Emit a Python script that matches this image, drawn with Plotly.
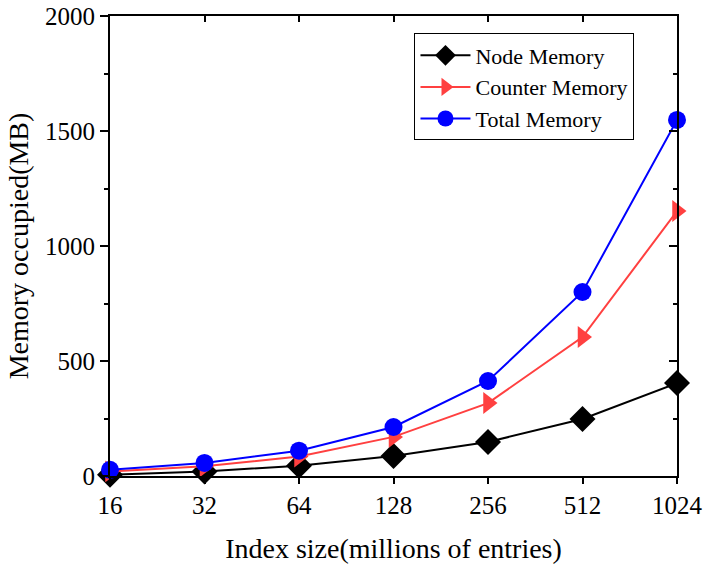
import plotly.graph_objects as go

categories = ["16", "32", "64", "128", "256", "512", "1024"]
node_memory = [5, 20, 45, 87, 148, 248, 404]
counter_memory = [20, 42, 85, 170, 317, 604, 1152]
total_memory = [27, 57, 110, 213, 413, 800, 1548]

FONT = "Liberation Serif"

fig = go.Figure()
fig.add_trace(go.Scatter(x=categories, y=node_memory, name="Node Memory", mode="lines+markers",
                         line=dict(color="black", width=2),
                         marker=dict(symbol="diamond", size=20, color="black"), cliponaxis=False))
fig.add_trace(go.Scatter(x=categories, y=counter_memory, name="Counter Memory", mode="lines+markers",
                         line=dict(color="#ff4040", width=2),
                         marker=dict(symbol="triangle-right", size=19, color="#ff4040"), cliponaxis=False))
fig.add_trace(go.Scatter(x=categories, y=total_memory, name="Total Memory", mode="lines+markers",
                         line=dict(color="#0000ff", width=2),
                         marker=dict(symbol="circle", size=18, color="#0000ff"), cliponaxis=False))
# invisible trace to activate mirrored axes with inside ticks
fig.add_trace(go.Scatter(x=categories, y=total_memory, xaxis="x2", yaxis="y2", mode="markers",
                         marker=dict(opacity=0), showlegend=False, hoverinfo="skip"))

fig.update_layout(
    width=705, height=564,
    margin=dict(l=110, r=28, t=16, b=88, autoexpand=False),
    paper_bgcolor="white", plot_bgcolor="white",
    font=dict(family=FONT, size=25, color="black"),
    xaxis=dict(type="category", range=[0, 6], showgrid=False, zeroline=False, automargin=False,
               showline=True, linecolor="black", linewidth=2,
               ticks="outside", ticklen=6, tickwidth=2, tickcolor="black",
               tickfont=dict(family=FONT, size=25),
               title=dict(text="Index size(millions of entries)", font=dict(family=FONT, size=28), standoff=20)),
    yaxis=dict(range=[0, 2000], dtick=500, showgrid=False, zeroline=False, automargin=False,
               showline=True, linecolor="black", linewidth=2,
               ticks="outside", ticklen=8, tickwidth=2, tickcolor="black",
               tickfont=dict(family=FONT, size=25),
               minor=dict(dtick=250, ticks="outside", ticklen=4, tickwidth=2, tickcolor="black", showgrid=False),
               title=dict(text="Memory occupied(MB)", font=dict(family=FONT, size=28), standoff=8)),
    xaxis2=dict(type="category", range=[0, 6], overlaying="x", side="top", showgrid=False, zeroline=False,
                automargin=False,
                showline=True, linecolor="black", linewidth=2, ticks="inside", ticklen=6, tickwidth=2,
                tickcolor="black", showticklabels=False),
    yaxis2=dict(range=[0, 2000], dtick=500, overlaying="y", side="right", showgrid=False, zeroline=False,
                automargin=False,
                showline=True, linecolor="black", linewidth=2, ticks="inside", ticklen=8, tickwidth=2,
                tickcolor="black", showticklabels=False,
                minor=dict(dtick=250, ticks="inside", ticklen=4, tickwidth=2, tickcolor="black", showgrid=False)),
    legend=dict(x=0.537, y=0.962, xanchor="left", yanchor="top",
                bgcolor="white", bordercolor="black", borderwidth=1,
                font=dict(family=FONT, size=22), tracegroupgap=0, itemwidth=50),
    showlegend=True,
)

# remove the browser's default 8px body margin so the figure fills the window exactly
fig.write_html("out.html", config={"displayModeBar": False},
               post_script="document.body.style.margin='0';document.body.style.overflow='hidden';")
